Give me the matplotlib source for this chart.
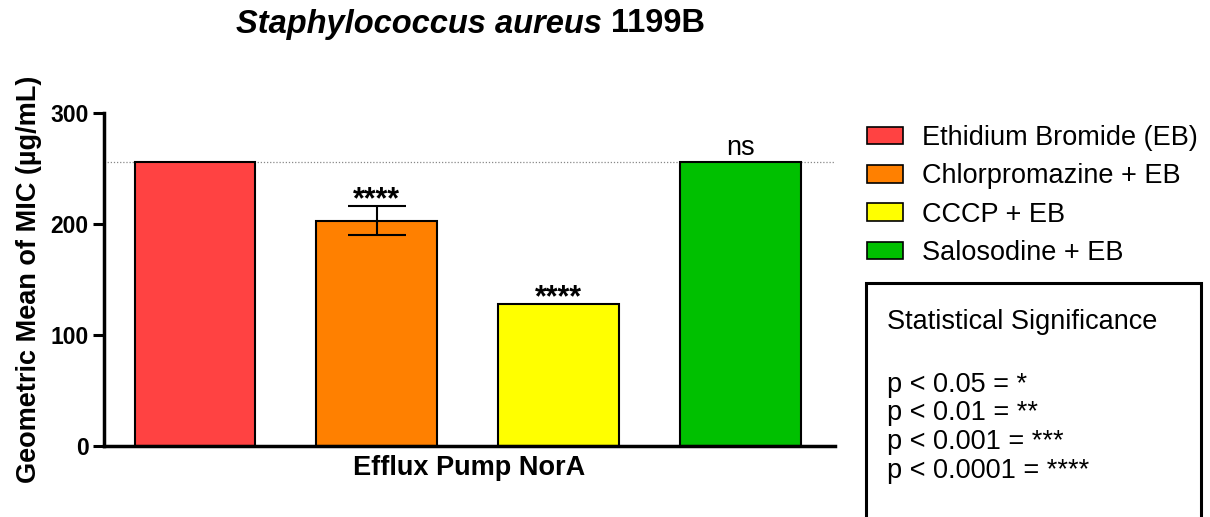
import matplotlib.pyplot as plt
import numpy as np
from matplotlib.patches import Patch, Rectangle

plt.rcParams["font.family"] = ["Liberation Sans", "DejaVu Sans"]

treatments = ["Ethidium Bromide (EB)", "Chlorpromazine + EB", "CCCP + EB", "Salosodine + EB"]
mic_mean = [256, 203, 128, 256]
mic_err = [0, 13, 0, 0]
signif = ["", "****", "****", "ns"]
colors = ["#FF4242", "#FF8000", "#FFFF00", "#00C000"]
baseline = 256
legend_lines = ["p < 0.05 = *", "p < 0.01 = **", "p < 0.001 = ***", "p < 0.0001 = ****"]

fig = plt.figure(figsize=(12.1, 5.17), dpi=100)
ax = fig.add_axes([0.086, 0.137, 0.604, 0.644])

x = np.arange(len(treatments))
bars = ax.bar(x, mic_mean, width=0.665, color=colors, edgecolor="black", linewidth=1.5, zorder=2)
ax.errorbar(x[1], mic_mean[1], yerr=mic_err[1], fmt="none", ecolor="black",
            elinewidth=1.5, capsize=21, capthick=1.5, zorder=3)
ax.axhline(baseline, color="#888888", linestyle=(0, (1, 1.5)), linewidth=0.9, zorder=1)

for xi, m, e, s in zip(x, mic_mean, mic_err, signif):
    if not s:
        continue
    top = m + e
    if s == "ns":
        ax.text(xi, top + 1, s, ha="center", va="bottom", fontsize=19.5)
    else:
        ax.text(xi, top - 8, s, ha="center", va="bottom", fontsize=22, fontweight="bold")

ax.set_xlim(-0.5, 3.52)
ax.set_ylim(0, 300)
ax.set_yticks([0, 100, 200, 300])
ax.set_xticks([])
ax.tick_params(axis="y", length=8, width=2.2, labelsize=16.5, pad=3)
for lab in ax.get_yticklabels():
    lab.set_fontweight("bold")
for side in ["top", "right"]:
    ax.spines[side].set_visible(False)
for side in ["left", "bottom"]:
    ax.spines[side].set_linewidth(2.5)
ax.set_xlabel("Efflux Pump NorA", fontsize=19.5, fontweight="bold", labelpad=6)
ax.set_ylabel("Geometric Mean of MIC (µg/mL)", fontsize=19.5, fontweight="bold", labelpad=6)

fig.text(602 / 1210, 1 - 24 / 517, "Staphylococcus aureus", ha="right", va="center",
         fontsize=23.5, fontweight="bold", fontstyle="italic")
fig.text(611 / 1210, 1 - 24 / 517, "1199B", ha="left", va="center",
         fontsize=23.5, fontweight="bold")

handles = [Patch(facecolor=c, edgecolor="black", linewidth=1.2) for c in colors]
fig.legend(handles, treatments, loc="upper left", bbox_to_anchor=(856 / 1210, 1 - 114 / 517),
           frameon=False, fontsize=19.5, handlelength=1.32, handleheight=0.62,
           handletextpad=0.72, labelspacing=0.46, borderaxespad=0)

fig.patches.append(Rectangle((866 / 1210, -0.05), 335 / 1210, 0.05 + (517 - 283) / 517,
                             transform=fig.transFigure, fill=False, edgecolor="black", linewidth=2.2))
fig.text(887 / 1210, 1 - 322 / 517, "Statistical Significance", ha="left", va="center", fontsize=19.5)
for i, line in enumerate(legend_lines):
    fig.text(887 / 1210, 1 - (385 + 28.5 * i) / 517, line, ha="left", va="center", fontsize=19.5)

fig.savefig("out.png", dpi=100, facecolor="white")
